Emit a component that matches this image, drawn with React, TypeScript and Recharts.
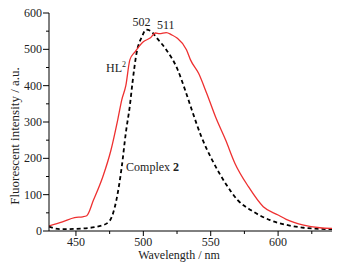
import React from 'react'
import { LineChart, Line, XAxis, YAxis, ReferenceDot, Label } from 'recharts'

// HL2 emission (red, solid)
const hlWave = [430, 440, 449, 455, 458, 463, 470, 476, 481, 484, 487, 490, 494, 500, 505, 509, 512, 517, 521, 525, 532, 535, 541, 547, 554, 561, 568, 578, 589, 600, 606, 619, 631, 640]
const hlInt = [14, 25, 37, 39, 42, 85, 150, 223, 306, 361, 400, 471, 494, 521, 531, 545, 543, 546, 540, 531, 499, 471, 434, 379, 310, 251, 186, 122, 67, 44, 32, 16, 9, 7]

// complex 2 emission (black, dashed)
const cxWave = [430, 438, 455, 470, 475, 480, 484, 487, 490, 492, 495, 499, 502, 506, 510, 517, 525, 531, 536, 543, 551, 561, 570, 580, 594, 606, 619, 640]
const cxInt = [12, 5, 7, 16, 28, 85, 177, 270, 345, 410, 490, 535, 554, 549, 531, 499, 448, 388, 333, 260, 196, 131, 85, 57, 30, 17, 9, 5]

const xTicks = [450, 475, 500, 525, 550, 575, 600, 625]
const xLabels = [450, 500, 550, 600]
const yTicks = [0, 50, 100, 150, 200, 250, 300, 350, 400, 450, 500, 550, 600]
const yLabels = [0, 100, 200, 300, 400, 500, 600]

const hlData = hlWave.map((w, i) => ({ nm: w, v: hlInt[i] }))
const cxData = cxWave.map((w, i) => ({ nm: w, v: cxInt[i] }))

const FONT = '"Liberation Serif", "DejaVu Serif", serif'

const XTick = (props: any) => {
  const { x, y, payload } = props
  const axisY = y - 7
  const major = xLabels.includes(payload.value)
  return (
    <g>
      <line x1={x} x2={x} y1={axisY} y2={axisY + (major ? 5 : 3)} stroke="#000" />
      {major && (
        <text x={x} y={axisY + 15} textAnchor="middle" fontSize={12} fontFamily={FONT} fill="#222">
          {payload.value}
        </text>
      )}
    </g>
  )
}

const YTick = (props: any) => {
  const { x, y, payload } = props
  const axisX = x + 7
  const major = yLabels.includes(payload.value)
  return (
    <g>
      <line x1={axisX - (major ? 6 : 3)} x2={axisX} y1={y} y2={y} stroke="#000" />
      {major && (
        <text x={axisX - 7} y={y + 4} textAnchor="end" fontSize={12} fontFamily={FONT} fill="#222">
          {payload.value}
        </text>
      )}
    </g>
  )
}

const note = (render: (x: number, y: number) => React.ReactNode) => (p: any) => {
  const vb = p.viewBox || {}
  return render(vb.x + (vb.width || 0) / 2, vb.y + (vb.height || 0) / 2)
}

export default function App() {
  return (
    <div style={{ position: 'absolute', left: 0, top: 0, background: '#fff' }}>
      <LineChart width={338} height={266} margin={{ top: 13, right: 6, left: 0, bottom: 0 }}>
        <XAxis
          type="number"
          dataKey="nm"
          domain={[430, 640]}
          allowDataOverflow
          ticks={xTicks}
          tick={<XTick />}
          tickLine={false}
          tickSize={5}
          tickMargin={2}
          height={35}
          axisLine={{ stroke: '#000' }}
          interval={0}
        >
          <Label
            content={note(() => (
              <text x={179} y={259} textAnchor="middle" fontSize={12} fontFamily={FONT} fill="#222">
                Wavelength / nm
              </text>
            ))}
          />
        </XAxis>
        <YAxis
          type="number"
          domain={[0, 600]}
          ticks={yTicks}
          tick={<YTick />}
          tickLine={false}
          tickSize={5}
          tickMargin={2}
          width={49}
          axisLine={{ stroke: '#000' }}
          interval={0}
        >
          <Label
            content={note(() => (
              <text x={19} y={136} transform="rotate(-90 19 136)" textAnchor="middle" fontSize={13} fontFamily={FONT} fill="#222">
                Fluorescent intensity / a.u.
              </text>
            ))}
          />
        </YAxis>
        <Line data={cxData} dataKey="v" type="monotone" stroke="#000" strokeWidth={1.8} strokeDasharray="4 3" dot={false} isAnimationActive={false} />
        <Line data={hlData} dataKey="v" type="monotone" stroke="#ee3030" strokeWidth={1.3} dot={false} isAnimationActive={false} />
        <ReferenceDot
          x={498.7}
          y={576}
          r={0}
          ifOverflow="visible"
          label={{
            content: note((x, y) => (
              <text x={x} y={y + 4} textAnchor="middle" fontSize={12} fontFamily={FONT} fill="#222">502</text>
            )),
          }}
        />
        <ReferenceDot
          x={516.6}
          y={567}
          r={0}
          ifOverflow="visible"
          label={{
            content: note((x, y) => (
              <text x={x} y={y + 4} textAnchor="middle" fontSize={12} fontFamily={FONT} fill="#222">511</text>
            )),
          }}
        />
        <ReferenceDot
          x={479.7}
          y={449}
          r={0}
          ifOverflow="visible"
          label={{
            content: note((x, y) => (
              <text x={x} y={y + 4} textAnchor="middle" fontSize={12} fontFamily={FONT} fill="#222">
                HL<tspan fontSize={8} dy={-5}>2</tspan>
              </text>
            )),
          }}
        />
        <ReferenceDot
          x={487.2}
          y={176}
          r={0}
          ifOverflow="visible"
          label={{
            content: note((x, y) => (
              <text x={x} y={y + 4} textAnchor="start" fontSize={12} fontFamily={FONT} fill="#222">
                Complex <tspan fontWeight="bold">2</tspan>
              </text>
            )),
          }}
        />
      </LineChart>
    </div>
  )
}
